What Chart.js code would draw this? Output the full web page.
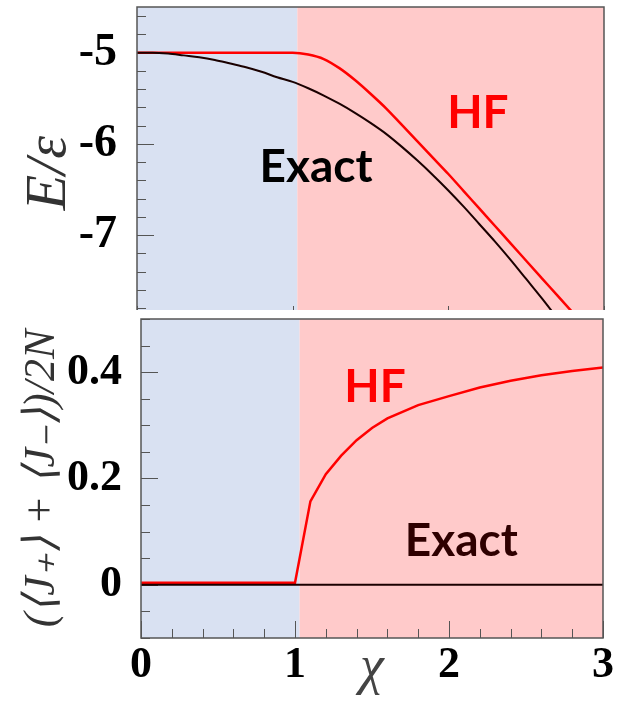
<!DOCTYPE html>
<html>
<head>
<meta charset="utf-8">
<script src="https://cdn.jsdelivr.net/npm/chart.js@4.4.1/dist/chart.umd.min.js"></script>
<style>
  body { margin: 0; background: #fff; }
  #wrap { position: relative; width: 625px; height: 704px; }
  canvas { position: absolute; left: 0; }
  #energy { top: 0; }
  #order { top: 312px; }
</style>
</head>
<body>
<div id="wrap">
  <canvas id="energy" width="625" height="312"></canvas>
  <canvas id="order" width="625" height="392"></canvas>
</div>
<script>
// energy per particle vs chi
const chiE = [0, 0.1, 0.2, 0.3, 0.4, 0.5, 0.6, 0.7, 0.8, 0.9, 1.0, 1.1, 1.2, 1.3, 1.4, 1.5, 1.6, 1.7, 1.8, 1.9, 2.0, 2.1, 2.2, 2.3, 2.4, 2.5, 2.6, 2.7, 2.8];
const exactE = [-5.00, -5.00, -5.01, -5.03, -5.05, -5.08, -5.12, -5.16, -5.21, -5.27, -5.32, -5.39, -5.47, -5.56, -5.66, -5.77, -5.89, -6.03, -6.18, -6.34, -6.51, -6.69, -6.88, -7.07, -7.27, -7.48, -7.69, -7.91, -8.13];
const hfE = [-5, -5, -5, -5, -5, -5, -5, -5, -5, -5, -5, -5.02, -5.07, -5.17, -5.30, -5.45, -5.61, -5.79, -5.97, -6.15, -6.33, -6.52, -6.71, -6.90, -7.09, -7.28, -7.47, -7.66, -7.85];

// order parameter (<J+> + <J->)/2N vs chi
const chiHfJ = [0, 1.0, 1.1, 1.2, 1.3, 1.4, 1.5, 1.6, 1.8, 2.0, 2.2, 2.4, 2.6, 2.8, 3.0];
const hfJ = [0.004, 0.004, 0.157, 0.208, 0.243, 0.272, 0.295, 0.313, 0.338, 0.355, 0.371, 0.384, 0.394, 0.402, 0.409];
const chiExactJ = [0, 3];
const exactJ = [0, 0];

// tick labels and the phase boundary
const energyTicks = [-7, -6, -5];
const orderTicks = [0, 0.2, 0.4];
const chiTicks = [0, 1, 2, 3];
const phaseBounds = [0, 1.03, 3];

const serif = "'Liberation Serif', 'Times New Roman', serif";

function series(xs, ys, color, width, smooth) {
  return {
    data: xs.map((x, i) => ({ x: x, y: ys[i] })),
    borderColor: color,
    borderWidth: width,
    pointRadius: 0,
    fill: false,
    cubicInterpolationMode: smooth ? 'monotone' : 'default',
    tension: 0
  };
}

// shaded phases, inward tick marks, text labels and frame
const decor = {
  id: 'decor',
  beforeDatasetsDraw(chart, args, o) {
    const { ctx, chartArea: a, scales: { x, y } } = chart;
    ctx.save();
    for (let i = 0; i < phaseBounds.length - 1; i++) {
      const x0 = x.getPixelForValue(phaseBounds[i]);
      const x1 = x.getPixelForValue(phaseBounds[i + 1]);
      ctx.fillStyle = o.shades[i];
      ctx.fillRect(x0, a.top, x1 - x0, a.bottom - a.top);
    }
    ctx.strokeStyle = '#555';
    ctx.lineWidth = 1;
    const each = (scale, minor, major, fn) => {
      let v = Math.ceil(scale.min / minor - 1e-9) * minor;
      for (; v <= scale.max + 1e-9; v += minor) {
        const isMajor = Math.abs(v / major - Math.round(v / major)) < 1e-6;
        fn(scale.getPixelForValue(v), isMajor ? 17 : 9);
      }
    };
    ctx.beginPath();
    each(y, o.yMinor, o.yMajor, (p, len) => {
      ctx.moveTo(a.left, Math.round(p) + 0.5);
      ctx.lineTo(a.left + len, Math.round(p) + 0.5);
    });
    each(x, o.xMinor, o.xMajor, (p, len) => {
      const l = o.xLen || len;
      ctx.moveTo(Math.round(p) + 0.5, a.bottom);
      ctx.lineTo(Math.round(p) + 0.5, a.bottom - l);
    });
    ctx.stroke();
    ctx.restore();
  },
  afterDatasetsDraw(chart, args, o) {
    const { ctx, chartArea: a, scales: { x, y } } = chart;
    ctx.save();
    ctx.font = "bold 46px Lato, 'Open Sans', sans-serif";
    ctx.textAlign = 'center';
    ctx.textBaseline = 'alphabetic';
    o.notes.forEach(n => {
      ctx.fillStyle = n.color;
      ctx.fillText(n.text, x.getPixelForValue(n.x), y.getPixelForValue(n.y));
    });
    ctx.strokeStyle = '#555';
    ctx.lineWidth = 1.5;
    ctx.beginPath();
    if (o.closed) {
      ctx.rect(a.left, a.top, a.right - a.left, a.bottom - a.top);
    } else {
      ctx.moveTo(a.left, a.bottom);
      ctx.lineTo(a.left, a.top);
      ctx.lineTo(a.right, a.top);
      ctx.lineTo(a.right, a.bottom);
    }
    ctx.stroke();
    ctx.restore();
  }
};

const shades = ['#d9e1f2', '#ffcaca'];

new Chart(document.getElementById('energy'), {
  type: 'line',
  data: {
    datasets: [
      series(chiE, exactE, '#1a0000', 2, true),
      series(chiE, hfE, '#ff0000', 2.5, true)
    ]
  },
  options: {
    responsive: false,
    animation: false,
    layout: { autoPadding: false, padding: { top: 7, right: 21, bottom: 2, left: 0 } },
    plugins: {
      legend: { display: false },
      tooltip: { enabled: false },
      decor: {
        shades: shades,
        xMinor: 1, xMajor: 1, xLen: 4, yMinor: 0.2, yMajor: 1,
        closed: false,
        notes: [
          { text: 'Exact', x: 1.15, y: -6.42, color: '#000' },
          { text: 'HF', x: 2.19, y: -5.83, color: '#ff0000' }
        ]
      }
    },
    scales: {
      x: { type: 'linear', min: 0, max: 3, display: false },
      y: {
        type: 'linear',
        min: -7.82,
        max: -4.5,
        grid: { display: false, drawTicks: false },
        border: { display: false },
        afterBuildTicks: s => { s.ticks = energyTicks.map(v => ({ value: v })); },
        afterFit: s => { s.width = 137; s.paddingTop = 0; s.paddingBottom = 0; },
        ticks: {
          padding: 20,
          color: '#000',
          callback: v => String(v),
          font: { family: serif, size: 46, weight: 'bold' }
        },
        title: {
          display: true,
          text: 'E/ε  ',
          color: '#333',
          font: { family: serif, size: 58, style: 'italic' },
          padding: { top: 15, bottom: 0 }
        }
      }
    }
  },
  plugins: [decor]
});

new Chart(document.getElementById('order'), {
  type: 'line',
  data: {
    datasets: [
      series(chiExactJ, exactJ, '#1a0000', 2, false),
      series(chiHfJ, hfJ, '#ff0000', 2.5, false)
    ]
  },
  options: {
    responsive: false,
    animation: false,
    layout: { autoPadding: false, padding: { top: 7, right: 22, bottom: 0, left: 0 } },
    plugins: {
      legend: { display: false },
      tooltip: { enabled: false },
      decor: {
        shades: shades,
        xMinor: 0.2, xMajor: 1, yMinor: 0.05, yMajor: 0.2,
        closed: true,
        notes: [
          { text: 'HF', x: 1.52, y: 0.344, color: '#ff0000' },
          { text: 'Exact', x: 2.08, y: 0.054, color: '#2e0000' }
        ]
      }
    },
    scales: {
      x: {
        type: 'linear',
        min: 0,
        max: 3,
        grid: { display: false, drawTicks: false },
        border: { display: false },
        afterBuildTicks: s => { s.ticks = chiTicks.map(v => ({ value: v })); },
        afterFit: s => { s.height = 66; s.paddingLeft = 0; s.paddingRight = 0; },
        ticks: {
          padding: 1,
          color: '#000',
          maxRotation: 0,
          callback: v => String(v),
          font: { family: serif, size: 44, weight: 'bold' }
        },
        title: {
          display: true,
          text: 'χ',
          color: '#444',
          font: { family: serif, size: 54, style: 'italic' },
          padding: { top: 0, bottom: 3 }
        }
      },
      y: {
        type: 'linear',
        min: -0.1,
        max: 0.5,
        grid: { display: false, drawTicks: false },
        border: { display: false },
        afterBuildTicks: s => { s.ticks = orderTicks.map(v => ({ value: v })); },
        afterFit: s => { s.width = 141; s.paddingTop = 0; s.paddingBottom = 0; },
        ticks: {
          padding: 19,
          color: '#000',
          callback: v => String(v),
          font: { family: serif, size: 44, weight: 'bold' }
        },
        title: {
          display: true,
          text: '(⟨J₊⟩ + ⟨J₋⟩)/2N',
          color: '#333',
          font: { family: serif, size: 44, style: 'italic' },
          padding: { top: 16, bottom: 0 }
        }
      }
    }
  },
  plugins: [decor]
});
</script>
</body>
</html>
